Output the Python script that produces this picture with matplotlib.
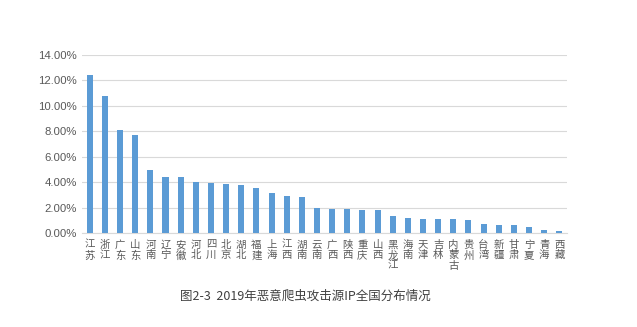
import matplotlib
matplotlib.use("Agg")
import matplotlib.pyplot as plt
from matplotlib.ticker import FuncFormatter

plt.rcParams['font.family'] = ['Noto Sans CJK SC', 'DejaVu Sans']

provinces = ["江苏", "浙江", "广东", "山东", "河南", "辽宁", "安徽", "河北", "四川", "北京",
             "湖北", "福建", "上海", "江西", "湖南", "云南", "广西", "陕西", "重庆", "山西",
             "黑龙江", "海南", "天津", "吉林", "内蒙古", "贵州", "台湾", "新疆", "甘肃", "宁夏",
             "青海", "西藏"]
values = [12.41, 10.80, 8.06, 7.67, 4.96, 4.40, 4.40, 4.00, 3.93, 3.82,
          3.74, 3.56, 3.16, 2.90, 2.79, 1.98, 1.87, 1.87, 1.77, 1.77,
          1.32, 1.21, 1.11, 1.11, 1.11, 1.00, 0.74, 0.63, 0.63, 0.47,
          0.24, 0.16]
yticks = [0, 2, 4, 6, 8, 10, 12, 14]
title = "图2-3  2019年恶意爬虫攻击源IP全国分布情况"

txt = "#595959"
fig = plt.figure(figsize=(6.37, 3.27), dpi=100)
ax = fig.add_axes([0.129, 0.2875, 0.761, 0.545])
x = list(range(len(provinces)))
ax.bar(x, values, width=0.4, color="#5B9BD5", zorder=3)
ax.set_xlim(-0.5, len(provinces) - 0.5)
ax.set_ylim(0, 14)
ax.set_yticks(yticks)
ax.yaxis.set_major_formatter(FuncFormatter(lambda v, p: "%.2f%%" % v))
ax.grid(axis="y", color="#D9D9D9", linewidth=0.8, zorder=0)
for s in ["top", "right", "left"]:
    ax.spines[s].set_visible(False)
ax.spines["bottom"].set_color("#D9D9D9")
ax.tick_params(axis="both", length=0, colors=txt)
ax.tick_params(axis="y", pad=4, labelsize=8.2, labelfontfamily="Liberation Sans")
ax.set_xticks(x)
ax.set_xticklabels(["\n".join(p) for p in provinces], fontsize=7.5,
                   linespacing=1.05, va="top")
ax.tick_params(axis="x", pad=5)

fig.text(0.479, 0.095, title, ha="center", va="center", fontsize=9, color="#404040")
fig.savefig("out.png", dpi=100, facecolor="white")
